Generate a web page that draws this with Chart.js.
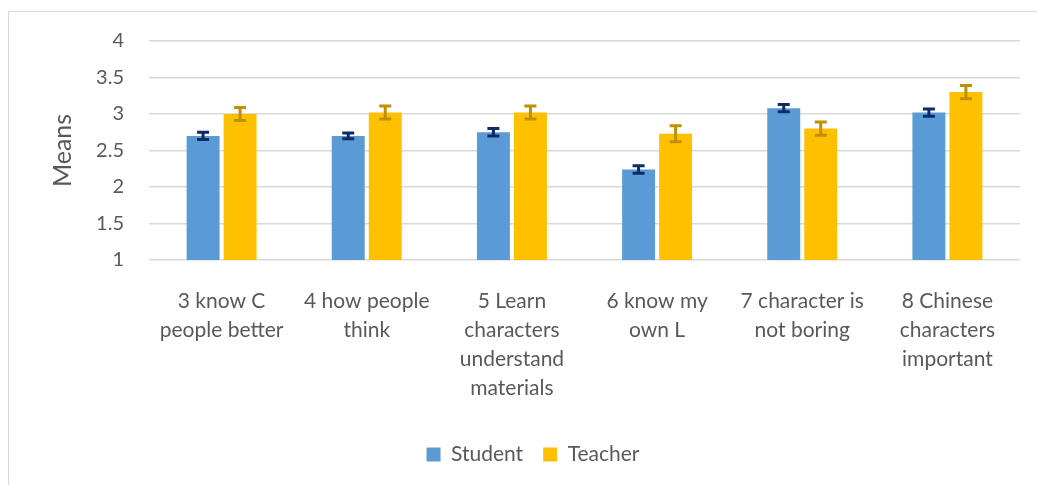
<!DOCTYPE html>
<html>
<head>
<meta charset="utf-8">
<script src="https://cdn.jsdelivr.net/npm/chart.js@4"></script>
<style>
  html, body { margin: 0; padding: 0; background: #fff; overflow: hidden; }
  #wrap { position: relative; width: 1037px; height: 485px; }
  #frame { position: absolute; left: 8px; top: 11px; width: 1100px; height: 600px;
           border-left: 1.5px solid #d9d9d9; border-top: 1.5px solid #d9d9d9; }
  canvas { position: absolute; left: 0; top: 0; }
</style>
</head>
<body>
<div id="wrap">
  <div id="frame"></div>
  <canvas id="meansChart" width="1037" height="485"></canvas>
</div>
<script>
// Data
const categories = [
    ['3 know C', 'people better'],
    ['4 how people', 'think'],
    ['5 Learn', 'characters', 'understand', 'materials'],
    ['6 know my', 'own L'],
    ['7 character is', 'not boring'],
    ['8 Chinese', 'characters', 'important']
];
const studentMeans = [2.70, 2.70, 2.75, 2.24, 3.08, 3.02];
const teacherMeans = [3.00, 3.02, 3.02, 2.73, 2.80, 3.30];
const studentErrors = [0.05, 0.04, 0.05, 0.05, 0.05, 0.05];
const teacherErrors = [0.09, 0.09, 0.09, 0.11, 0.09, 0.09];
const yTicks = [1, 1.5, 2, 2.5, 3, 3.5, 4];

const textColor = '#595959';
const fontFamily = 'Lato, "Open Sans", sans-serif';

// draws the error bars from the y scale
const errorBars = {
    id: 'errorBars',
    afterDatasetsDraw(chart) {
        const ctx = chart.ctx;
        const yScale = chart.scales.y;
        chart.data.datasets.forEach((ds, i) => {
            const meta = chart.getDatasetMeta(i);
            ctx.save();
            ctx.strokeStyle = ds.errorColor;
            ctx.lineWidth = 3;
            meta.data.forEach((bar, j) => {
                const v = ds.data[j];
                const e = ds.errors[j];
                const top = yScale.getPixelForValue(v + e);
                const bottom = yScale.getPixelForValue(v - e);
                const x = bar.x;
                ctx.beginPath();
                ctx.moveTo(x, top);
                ctx.lineTo(x, bottom);
                ctx.moveTo(x - 6, top);
                ctx.lineTo(x + 6, top);
                ctx.moveTo(x - 6, bottom);
                ctx.lineTo(x + 6, bottom);
                ctx.stroke();
            });
            ctx.restore();
        });
    }
};

const ctx = document.getElementById('meansChart').getContext('2d');
new Chart(ctx, {
    type: 'bar',
    data: {
        labels: categories,
        datasets: [
            {
                label: 'Student',
                data: studentMeans,
                errors: studentErrors,
                backgroundColor: '#5b9bd5',
                errorColor: '#0d2b66',
                categoryPercentage: 0.51,
                barPercentage: 0.89
            },
            {
                label: 'Teacher',
                data: teacherMeans,
                errors: teacherErrors,
                backgroundColor: '#ffc000',
                errorColor: '#bf9000',
                categoryPercentage: 0.51,
                barPercentage: 0.89
            }
        ]
    },
    options: {
        responsive: false,
        animation: false,
        layout: { padding: { top: 41, right: 17, bottom: 10, left: 46 } },
        plugins: {
            legend: {
                position: 'bottom',
                labels: {
                    boxWidth: 14,
                    boxHeight: 14,
                    padding: 20,
                    color: textColor,
                    font: { family: fontFamily, size: 21 }
                }
            },
            tooltip: { enabled: false }
        },
        scales: {
            x: {
                grid: { display: false },
                border: { display: false },
                ticks: {
                    color: textColor,
                    padding: 19,
                    maxRotation: 0,
                    autoSkip: false,
                    font: { family: fontFamily, size: 21, lineHeight: 1.38 }
                },
                afterFit(scale) { scale.height = 164; }
            },
            y: {
                min: 1,
                max: 4,
                afterBuildTicks(scale) { scale.ticks = yTicks.map(v => ({ value: v })); },
                grid: { color: '#d9d9d9', lineWidth: 1.5, drawTicks: false },
                border: { display: false },
                ticks: {
                    color: textColor,
                    padding: 25,
                    font: { family: fontFamily, size: 20 },
                    callback: (v) => String(v)
                },
                title: {
                    display: true,
                    text: 'Means',
                    color: textColor,
                    padding: { top: 2, bottom: 0 },
                    font: { family: fontFamily, size: 25 }
                },
                afterFit(scale) { scale.width = 103; }
            }
        }
    },
    plugins: [errorBars]
});
</script>
</body>
</html>
